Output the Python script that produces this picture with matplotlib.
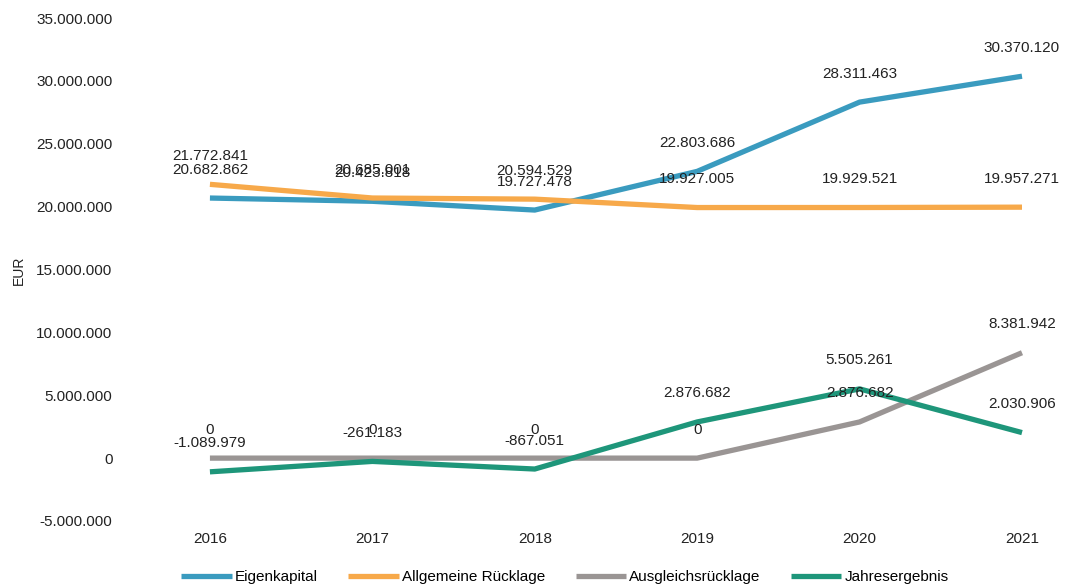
import matplotlib
matplotlib.use("Agg")
import matplotlib.pyplot as plt
from matplotlib.ticker import FuncFormatter

years = ["2016", "2017", "2018", "2019", "2020", "2021"]
eigenkapital = [20682862, 20423818, 19727478, 22803686, 28311463, 30370120]
allgemeine = [21772841, 20685001, 20594529, 19927005, 19929521, 19957271]
ausgleich = [0, 0, 0, 0, 2876682, 8381942]
jahresergebnis = [-1089979, -261183, -867051, 2876682, 5505261, 2030906]

series = [
    ("Eigenkapital", eigenkapital, "#3a9bbf"),
    ("Allgemeine Rücklage", allgemeine, "#f7a94a"),
    ("Ausgleichsrücklage", ausgleich, "#9a9594"),
    ("Jahresergebnis", jahresergebnis, "#1e967a"),
]

plt.rcParams["font.family"] = ["Liberation Sans", "DejaVu Sans"]

def de(v):
    s = f"{abs(int(round(v))):,}".replace(",", ".")
    return ("-" if v < 0 else "") + s

fig = plt.figure(figsize=(10.71, 5.87), dpi=100)
ax = fig.add_axes([150/1071, 1 - 521/587, (1060-150)/1071, (521-18)/587])

x = list(range(len(years)))
for name, vals, col in series:
    ax.plot(x, vals, color=col, lw=3.8, label=name, solid_capstyle="butt")
    for xi, v in zip(x, vals):
        ax.annotate(de(v), (xi, v), xytext=(0, 20.5), textcoords="offset points",
                    ha="center", va="center", fontsize=11, color="#222222")

ax.set_xlim(-0.369, 5.234)
ax.set_ylim(-5e6, 35e6)
ax.set_yticks(range(-5000000, 35000001, 5000000))
ax.yaxis.set_major_formatter(FuncFormatter(lambda v, p: de(v)))
ax.set_xticks(x)
ax.set_xticklabels(years)
ax.tick_params(axis="y", length=0, pad=27, labelsize=11, labelcolor="#222222")
ax.tick_params(axis="x", length=0, pad=8, labelsize=11, labelcolor="#222222")
for sp in ax.spines.values():
    sp.set_visible(False)
ax.set_ylabel("EUR", fontsize=10, color="#222222")
ax.yaxis.set_label_coords(-124/910, 1 - (270-18)/503)

fig.legend(loc="center", bbox_to_anchor=(565/1071, 1 - 577/587), ncol=4, frameon=False,
           fontsize=11, handlelength=3.3, handletextpad=0.2, columnspacing=2.0)

fig.savefig("out.png", dpi=100, facecolor="white")
